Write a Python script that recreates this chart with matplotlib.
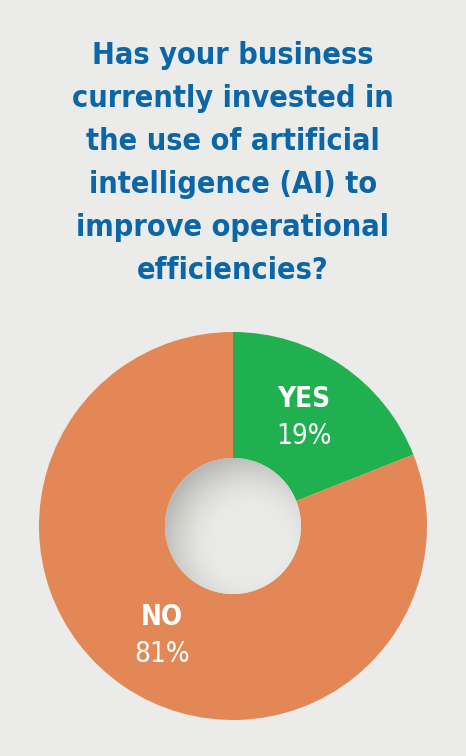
import matplotlib.pyplot as plt
import numpy as np
from matplotlib.patches import Circle

labels = ["YES", "NO"]
values = [19, 81]
colors = ["#21b050", "#e48756"]
title = ("Has your business\ncurrently invested in\nthe use of artificial\n"
         "intelligence (AI) to\nimprove operational\nefficiencies?")

W, H = 466, 756
bg = "#ebebe9"
font = ["DejaVu Sans"]

fig = plt.figure(figsize=(W / 100, H / 100), dpi=100, facecolor=bg)
ax = fig.add_axes([0, 0, 1, 1])

cx, cy = 233, H - 526
R, r_in = 194, 68

wedges, _ = ax.pie(values, colors=colors, startangle=90, counterclock=False,
                   radius=R, center=(cx, cy), frame=True,
                   wedgeprops=dict(width=R - r_in, linewidth=0))
ax.set_xlim(0, W)
ax.set_ylim(0, H)
ax.axis("off")

# hole with soft inner shadow
n = 300
xs = np.linspace(-1, 1, n)
X, Y = np.meshgrid(xs, xs[::-1])
d = np.hypot(X - 0.25, Y + 0.25)
shade = np.clip((d - 0.55) / 0.75, 0, 1)
val = 0.915 - 0.19 * shade ** 1.6
img = np.dstack([val, val, val * 0.995])
hole = Circle((cx, cy), r_in, transform=ax.transData)
im = ax.imshow(img, extent=(cx - r_in, cx + r_in, cy - r_in, cy + r_in),
               interpolation="bilinear", zorder=3)
im.set_clip_path(hole)

# wedge labels
for w, lab, v in zip(wedges, labels, values):
    ang = np.deg2rad((w.theta1 + w.theta2) / 2 + 1)
    tx = cx + 0.67 * R * np.cos(ang)
    ty = cy + 0.67 * R * np.sin(ang)
    ax.text(tx, ty + 18, lab, color="white", fontsize=20, fontweight="bold",
            family=font, stretch="condensed", ha="center", va="center", zorder=4)
    ax.text(tx, ty - 19, f"{v}%", color="white", fontsize=20,
            family=font, stretch="condensed", ha="center", va="center", zorder=4)

ax.text(W / 2, H - 41, title, color="#0b66a8", fontsize=22, fontweight="bold",
        family=font, stretch="condensed", ha="center", va="top", linespacing=1.61)

fig.savefig("out.png", dpi=100, facecolor=bg)
